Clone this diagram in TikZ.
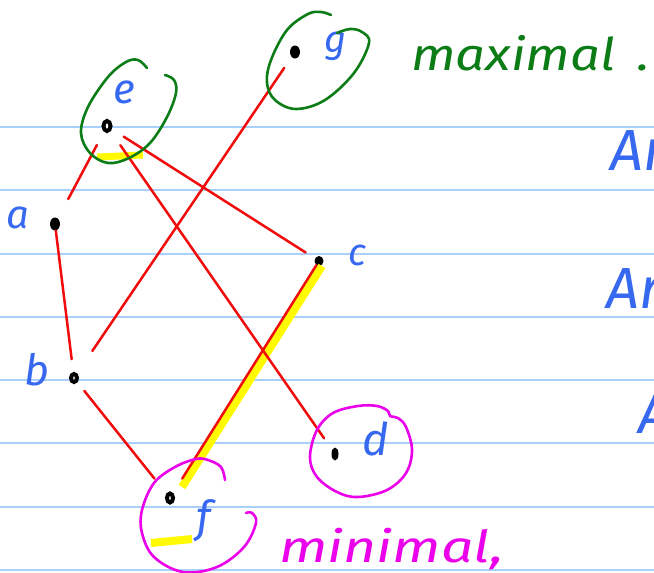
\documentclass[tikz,border=0pt]{standalone}
\usepackage{fontspec}
\usepackage{graphicx}
\setmainfont{Fira Sans}
\usetikzlibrary{shapes.geometric}
\definecolor{rulecol}{RGB}{168,208,250}
\definecolor{ink}{RGB}{240,12,12}
\definecolor{pen}{RGB}{55,105,240}
\definecolor{leaf}{RGB}{12,125,22}
\definecolor{pink}{RGB}{235,0,235}
\definecolor{marker}{RGB}{255,250,0}
\begin{document}
\begin{tikzpicture}[x=1pt,y=-1pt,
  blackdot/.style={ellipse,fill=black,inner sep=0,minimum width=10,minimum height=13},
  ringdot/.style={ellipse,draw=black,line width=4,fill=white,inner sep=0,minimum width=7,minimum height=10},
  edgeline/.style={draw=ink,line width=2.5,line cap=round,line join=round},
  hand/.style={font=\itshape\fontsize{#1}{#1}\selectfont,inner sep=0,anchor=base},
  letter/.style={hand=#1,text=pen},
  loop/.style={line width=2.6,line cap=round,line join=round},
  glow/.style={draw=marker,line width=8,line cap=butt}]
\clip (0,0) rectangle (654,573);
\fill[white] (0,0) rectangle (654,573);

% ruled paper
\foreach \y in {127,190,254,317,380,443,507,570}
  \draw[rulecol,line width=2] (0,\y) -- (654,\y);

% elements of the poset
\node[ringdot] (e) at (107,126) {};
\node[blackdot] (g) at (295,52) {};
\node[blackdot] (a) at (55,224) {};
\node[blackdot,minimum width=9,minimum height=10] (c) at (319,261) {};
\node[ringdot,minimum width=6,minimum height=8] (b) at (74,378) {};
\node[blackdot,minimum width=7,minimum height=13] (d) at (335,454) {};
\node[ringdot,minimum width=6,minimum height=9] (f) at (170,498) {};

% marker highlights
\draw[glow] (322,266) -- (182,487);
\draw[glow,line width=7] (97,157) -- (143,155);
\draw[glow] (151,543) -- (192,539);

% cover relations
\draw[edgeline,shorten <=15,shorten >=22] (e) -- (a);
\draw[edgeline,shorten <=17,shorten >=14] (e) -- (d);
\draw[edgeline,shorten <=14,shorten >=11] (e) -- (c);
\draw[edgeline,shorten <=13,shorten >=27] (g) -- (b);
\draw[edgeline,shorten <=0,shorten >=13] (a) -- (b);
\draw[edgeline,shorten <=11,shorten >=19] (b) -- (f);
\draw[edgeline,shorten <=0,shorten >=17] (c) -- (f);

% labels
\node[letter=42] (le) at (124,103) {e};
\node[letter=38] (lg) at (336,52) {g};
\node[letter=40] (la) at (18,228) {a};
\node[letter=38] (lc) at (357,265) {c};
\node[letter=43] (lb) at (37,385) {b};
\node[letter=45] (ld) at (376,455) {d};
\node[letter=44] (lf) at (204,532) {f};

% maximal elements
\draw[leaf,loop] plot[smooth,tension=0.6] coordinates {(147,68) (138,60) (126,62) (108,77) (88,107) (81,133) (90,153) (108,163) (129,158) (150,143) (167,117) (176,93) (174,80) (165,75)};
\draw[leaf,loop] plot[smooth,tension=0.6] coordinates {(331,15) (321,12) (308,14) (287,30) (271,60) (267,83) (275,100) (296,109) (325,100) (354,73) (369,43) (362,32) (350,29) (337,33)};
\node[hand=45,text=leaf,anchor=base west] (maxlabel) at (411,70) {\scalebox{1.17}[1]{maximal\, .}};

% minimal elements
\draw[pink,loop] plot[smooth,tension=0.6] coordinates {(225,480) (221,467) (208,460) (196,459) (175,467) (154,483) (142,510) (142,533) (154,557) (183,572) (217,567) (244,547) (256,523) (252,513) (246,513)};
\draw[pink,loop] plot[smooth cycle,tension=0.6] coordinates {(358,406) (333,413) (317,430) (310,457) (317,477) (337,492) (358,497) (387,490) (406,473) (412,450) (406,427) (398,418) (390,416) (388,411) (377,406)};
\node[hand=44,text=pink,anchor=base west] (minlabel) at (279,562) {\scalebox{1.3}[1]{minimal,}};

% notes running off the page
\node[hand=58,text=pen,anchor=base west] (n1) at (610,170) {Ar};
\node[hand=58,text=pen,anchor=base west] (n2) at (606,308) {Ar};
\node[hand=58,text=pen,anchor=base west] (n3) at (638,433) {A};
\end{tikzpicture}
\end{document}
